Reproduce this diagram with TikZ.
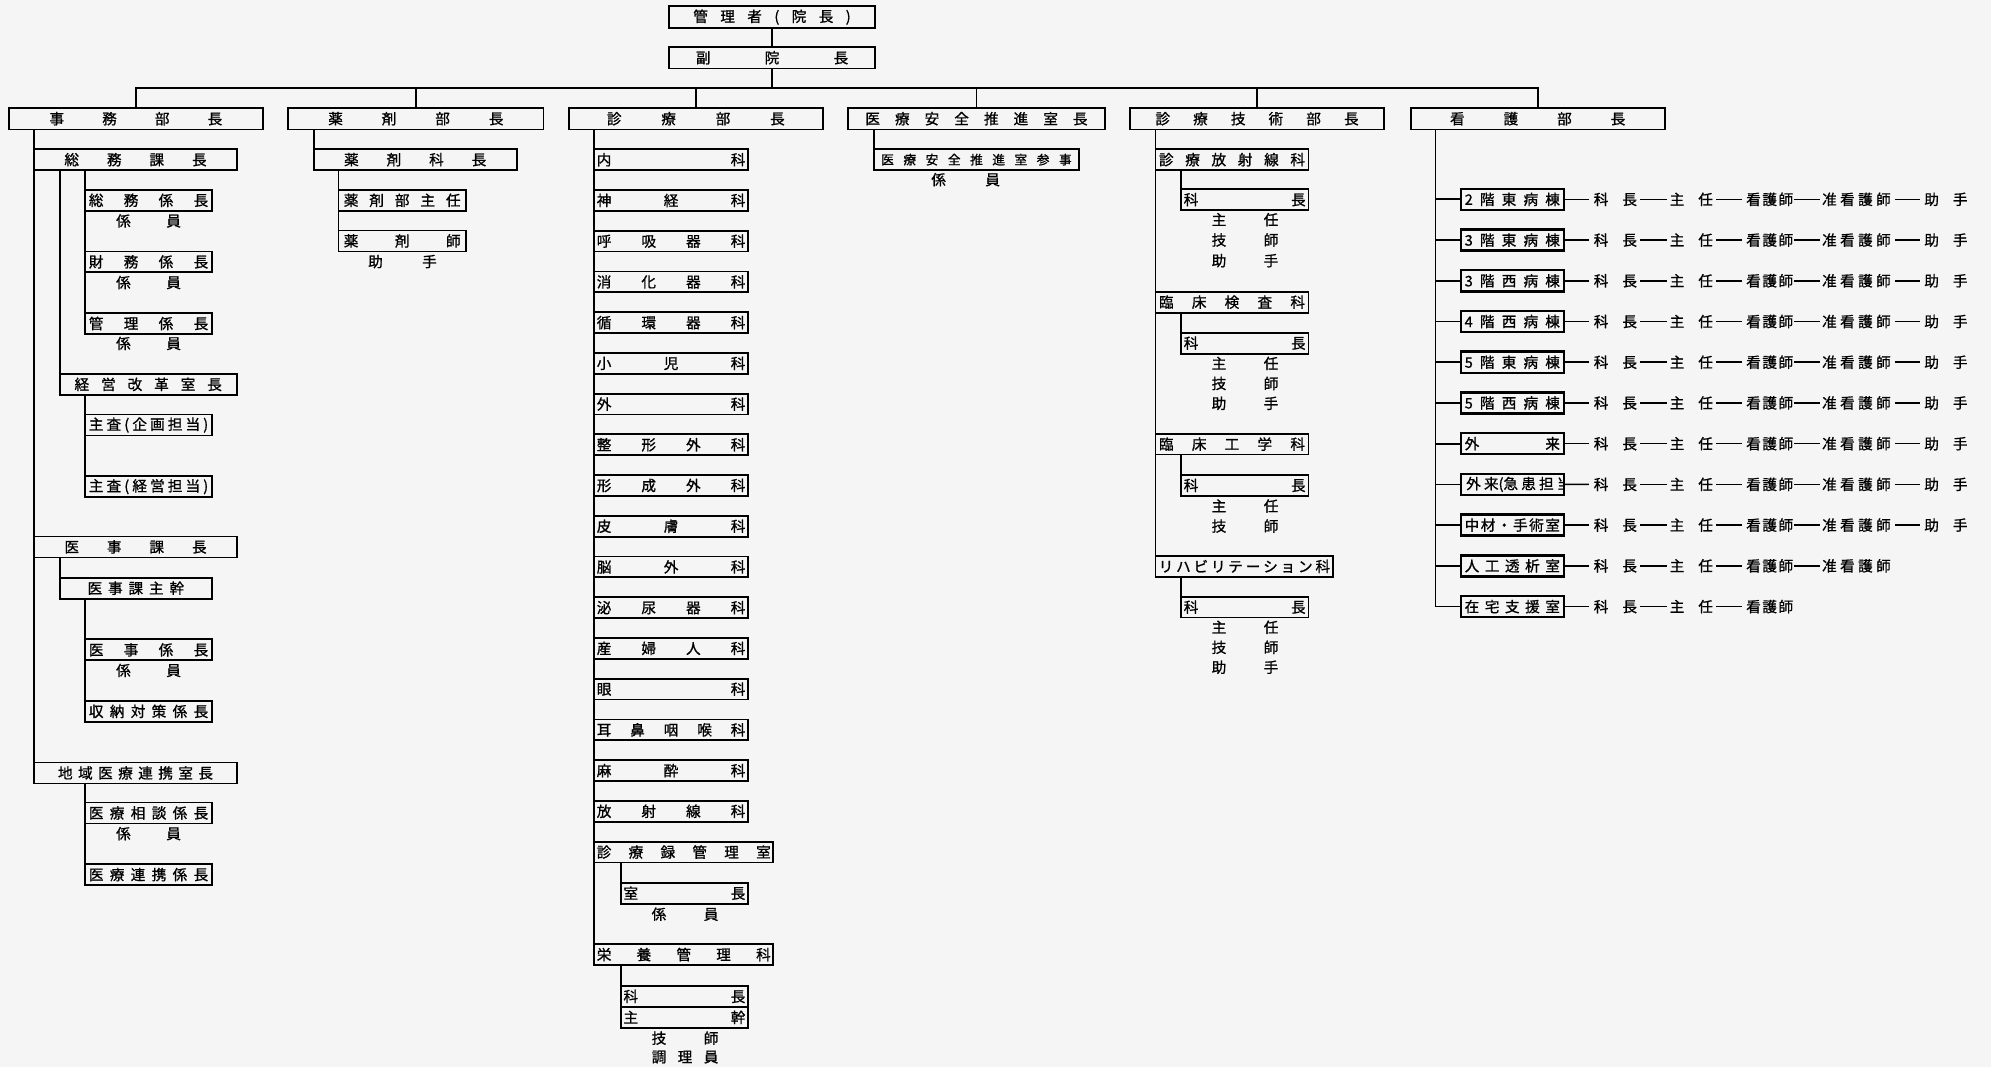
\documentclass[tikz,border=0pt]{standalone}
\usepackage{fontspec}
\setmainfont{Noto Sans CJK JP}[FakeBold=1.0]
\usetikzlibrary{calc}
\makeatletter
\def\spreadchars#1{\expandafter\spr@a#1\spr@end}
\def\spr@a#1#2\spr@end{#1\ifx\relax#2\relax\else\hfill\spr@a#2\spr@end\fi}
\makeatother
\newcommand\Bx[8][]{\node[obox,minimum width={#5pt-#3pt},minimum height={#6pt-#4pt},#1] (#2) at (#3,#4) {\makebox[#7pt]{\spreadchars{#8}}};}
\newcommand\Lb[5]{\node[lbl] (#1) at (#2,#3) {\makebox[#4pt]{\spreadchars{#5}}};}
\begin{document}
\begin{tikzpicture}[x=1pt,y=-1pt,
  obox/.style={draw,line width=1.4pt,inner sep=0pt,outer sep=0pt,anchor=north west,font=\fontsize{11.5}{12}\selectfont},
  ward/.style={line width=1.9pt,font=\fontsize{11.5}{12}\selectfont},
  lbl/.style={inner sep=0pt,outer sep=0pt,font=\fontsize{11.5}{12}\selectfont},
  ln/.style={line width=1.4pt},
  dl/.style={line width=1.2pt},
  chn/.style={inner sep=0pt,outer sep=0pt,font=\fontsize{11.5}{12}\selectfont}]
\fill[black!4] (0,0) rectangle (1568,840);
\useasboundingbox (0,0) rectangle (1568,840);
% top
\Bx{kanri}{527}{5}{689}{22}{124}{管理者(院長)}
\Bx{fuku}{527}{37}{689}{54}{120}{副院長}
% heads
\Bx{jimu}{7}{85}{207}{102}{136}{事務部長}
\Bx{yaku}{227}{85}{428}{102}{138}{薬剤部長}
\Bx{shinryo}{448}{85}{648}{102}{140}{診療部長}
\Bx{anzen}{668}{85}{870}{102}{175}{医療安全推進室長}
\Bx{gijutsu}{890}{85}{1090}{102}{160}{診療技術部長}
\Bx{kango}{1111}{85}{1311}{102}{138}{看護部長}
% jimu column
\Bx{somu}{27}{117.5}{186.5}{134}{112}{総務課長}
\Bx{somuk}{67}{149.5}{167}{166}{94}{総務係長}
\Lb{somukl}{117}{174}{51}{係員}
\Bx{zaimu}{67}{198}{167}{214.5}{94}{財務係長}
\Lb{zaimul}{117}{222.5}{51}{係員}
\Bx{kanrik}{67}{246.5}{167}{263}{94}{管理係長}
\Lb{kanrikl}{117}{270.5}{51}{係員}
\Bx{keiei}{47}{294.5}{186.5}{311}{116}{経営改革室長}
\Bx{kikaku}{67}{326.5}{167}{343}{94}{主査(企画担当)}
\Bx{keieitan}{67}{375}{167}{391.5}{94}{主査(経営担当)}
\Bx{iji}{27}{422.5}{186.5}{439}{112}{医事課長}
\Bx{ijishukan}{47}{455}{167}{471.5}{76}{医事課主幹}
\Bx{ijik}{67}{503.5}{167}{520}{94}{医事係長}
\Lb{ijikl}{117}{528}{51}{係員}
\Bx{shuno}{67}{552}{167}{568.5}{94}{収納対策係長}
\Bx{chiiki}{27}{600.5}{186.5}{617}{122}{地域医療連携室長}
\Bx{sodan}{67}{632}{167}{648.5}{94}{医療相談係長}
\Lb{sodanl}{117}{656.5}{51}{係員}
\Bx{renkei}{67}{680.5}{167}{697}{94}{医療連携係長}
% yakuzai column
\Bx{yakka}{247}{117.5}{407}{134}{112}{薬剤科長}
\Bx{yakushu}{266.5}{149.5}{367}{166}{92}{薬剤部主任}
\Bx{yakushi}{266.5}{181.5}{367}{198}{92}{薬剤師}
\Lb{yakushil}{317}{206}{54}{助手}
% shinryo column
\foreach \i/\t in {0/内科,1/神経科,2/呼吸器科,3/消化器科,4/循環器科,5/小児科,6/外科,7/整形外科,8/形成外科,9/皮膚科,10/脳外科,11/泌尿器科,12/産婦人科,13/眼科,14/耳鼻咽喉科,15/麻酔科,16/放射線科}{
  \pgfmathsetmacro\ya{117.6+32.07*\i}
  \pgfmathsetmacro\yb{\ya+16.4}
  \Bx{d\i}{468}{\ya}{589}{\yb}{117}{\t}
}
\Bx{roku}{468}{662.8}{609}{679.2}{137}{診療録管理室}
\Bx{shitsucho}{489}{695.3}{589}{711.7}{96}{室長}
\Lb{rokul}{539.5}{720}{52.5}{係員}
\Bx{eiyo}{468}{743.5}{609}{760}{137}{栄養管理科}
\Bx{eka}{489}{776.5}{589}{793}{96}{科長}
\Bx{eshu}{489}{793}{589}{809.5}{96}{主幹}
\Lb{egishi}{539.5}{817.6}{52.5}{技師}
\Lb{echori}{539.5}{832.5}{52.5}{調理員}
% anzen column
\Bx[font=\fontsize{10}{11}\selectfont]{sanji}{688}{117.5}{850}{134}{150}{医療安全推進室参事}
\Lb{sanjil}{760.5}{141.5}{54}{係員}
% gijutsu column
\Bx{hosha}{910}{117.5}{1030.5}{134}{115}{診療放射線科}
\Bx{hka}{930}{149}{1030.5}{165.5}{96}{科長}
\Lb{hl1}{980.5}{173}{52.5}{主任}
\Lb{hl2}{980.5}{189}{52.5}{技師}
\Lb{hl3}{980.5}{205.3}{52.5}{助手}
\Bx{kensa}{910}{229.7}{1030.5}{246.2}{115}{臨床検査科}
\Bx{kska}{930}{262}{1030.5}{278.5}{96}{科長}
\Lb{kl1}{980.5}{286.2}{52.5}{主任}
\Lb{kl2}{980.5}{302}{52.5}{技師}
\Lb{kl3}{980.5}{317.7}{52.5}{助手}
\Bx{kogaku}{910}{341.5}{1030.5}{358}{115}{臨床工学科}
\Bx{kgka}{930}{374}{1030.5}{390.5}{96}{科長}
\Lb{gl1}{980.5}{398.5}{52.5}{主任}
\Lb{gl2}{980.5}{414.3}{52.5}{技師}
\Bx{riha}{910}{437.9}{1050}{454.3}{135}{リハビリテーション科}
\Bx{rhka}{930}{470}{1030.5}{486.3}{96}{科長}
\Lb{rl1}{980.5}{494}{52.5}{主任}
\Lb{rl2}{980.5}{509.8}{52.5}{技師}
\Lb{rl3}{980.5}{525.5}{52.5}{助手}
% kango column
\foreach \i/\t in {0/2階東病棟,1/3階東病棟,2/3階西病棟,3/4階西病棟,4/5階東病棟,5/5階西病棟,6/外来,8/中材・手術室,9/人工透析室,10/在宅支援室}{
  \pgfmathsetmacro\ya{148.7+32.07*\i}
  \pgfmathsetmacro\yb{\ya+16.6}
  \Bx[ward]{w\i}{1150.5}{\ya}{1231.5}{\yb}{75}{\t}
}
\node[obox,ward,minimum width=81pt,minimum height=16.6pt] (w7) at (1150.5,373.2) {};
\begin{scope}
\clip (w7.south west) rectangle (w7.north east);
\node[anchor=west,inner sep=0pt,font=\fontsize{11.5}{12}\selectfont] (w7t) at ([xshift=4pt]w7.west) {外\hspace{2.5pt}来(急\hspace{2.5pt}患\hspace{2.5pt}担\hspace{2.5pt}当)};
\end{scope}
\foreach \i in {0,...,10}{
  \pgfmathsetmacro\yc{157+32.07*\i}
  \node[chn] (k\i) at (1272.2,\yc) {\makebox[34pt]{\spreadchars{科長}}};
  \node[chn] (s\i) at (1332,\yc) {\makebox[34pt]{\spreadchars{主任}}};
  \node[chn] (n\i) at (1393.7,\yc) {\makebox[37pt]{\spreadchars{看護師}}};
  \draw[dl,shorten >=4pt] (w\i.east) -- (k\i.west);
  \draw[dl,shorten <=2.5pt,shorten >=2.5pt] (k\i.east) -- (s\i.west);
  \draw[dl,shorten <=2.5pt,shorten >=3pt] (s\i.east) -- (n\i.west);
}
\foreach \i in {0,...,9}{
  \pgfmathsetmacro\yc{157+32.07*\i}
  \node[chn] (j\i) at (1462,\yc) {\makebox[54pt]{\spreadchars{准看護師}}};
  \draw[dl,shorten <=0.5pt,shorten >=1.5pt] (n\i.east) -- (j\i.west);
}
\foreach \i in {0,...,8}{
  \pgfmathsetmacro\yc{157+32.07*\i}
  \node[chn] (h\i) at (1532.5,\yc) {\makebox[34pt]{\spreadchars{助手}}};
  \draw[dl,shorten <=3.5pt,shorten >=3.5pt] (j\i.east) -- (h\i.west);
}
% connectors: top
\draw[ln] (kanri.south) -- (fuku.north);
\coordinate (bus) at ($(fuku.south)+(0,15)$);
\draw[ln] (fuku.south) -- (bus);
\draw[ln] (jimu.north) |- (bus) -| (kango.north);
\foreach \n in {yaku,shinryo,anzen,gijutsu}{\draw[ln] (\n.north) -- (\n.north |- bus);}
% jimu
\draw[ln] (jimu.south -| chiiki.west) -- (chiiki.north west);
\draw[ln] (somu.south -| keiei.west) -- (keiei.north west);
\draw[ln] (somu.south -| kanrik.west) -- (kanrik.north west);
\draw[ln] (keiei.south -| keieitan.west) -- (keieitan.north west);
\draw[ln] (iji.south -| ijishukan.west) -- (ijishukan.north west);
\draw[ln] (ijishukan.south -| shuno.west) -- (shuno.north west);
\draw[ln] (chiiki.south -| renkei.west) -- (renkei.north west);
% yakuzai
\draw[ln] (yaku.south -| yakka.west) -- (yakka.north west);
\draw[ln] (yakka.south -| yakushi.west) -- (yakushi.north west);
% shinryo
\draw[ln] (shinryo.south -| eiyo.west) -- (eiyo.north west);
\draw[ln] (roku.south -| shitsucho.west) -- (shitsucho.north west);
\draw[ln] (eiyo.south -| eka.west) -- (eka.north west);
% anzen
\draw[ln] (anzen.south -| sanji.west) -- (sanji.north west);
% gijutsu
\draw[ln] (gijutsu.south -| riha.west) -- (riha.north west);
\draw[ln] (hosha.south -| hka.west) -- (hka.north west);
\draw[ln] (kensa.south -| kska.west) -- (kska.north west);
\draw[ln] (kogaku.south -| kgka.west) -- (kgka.north west);
\draw[ln] (riha.south -| rhka.west) -- (rhka.north west);
% kango
\coordinate (kt) at ($(kango.south west)+(19.5,0)$);
\draw[ln] (kt) |- (w10.west);
\foreach \i in {0,...,9}{\draw[ln] (kt |- w\i.west) -- (w\i.west);}
\end{tikzpicture}
\end{document}
